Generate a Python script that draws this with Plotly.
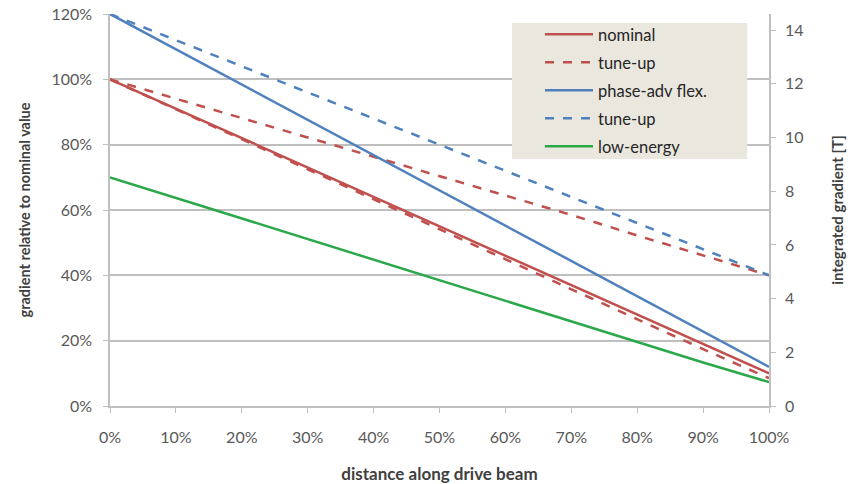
import plotly.graph_objects as go

distance = [0, 10, 20, 30, 40, 50, 60, 70, 80, 90, 100]
distance_labels = ["0%", "10%", "20%", "30%", "40%", "50%", "60%", "70%", "80%", "90%", "100%"]
nominal = [100, 91, 82, 73, 64, 55, 46, 37, 28, 19, 10]
nominal_tuneup_low = [100, 90.8, 81.6, 72.4, 63.2, 54, 44.8, 35.6, 26.4, 17.4, 8.5]
nominal_tuneup = [100, 94, 88, 82.2, 76.3, 70.3, 64.3, 58.5, 52.2, 46.2, 40]
phase_adv = [120, 109.2, 98.4, 87.6, 76.8, 66, 55.2, 44.4, 33.6, 22.8, 12]
phase_tuneup = [120, 112, 104, 96, 88, 80, 72, 64, 56, 48, 40]
low_energy = [70, 63.7, 57.4, 51.1, 44.8, 38.5, 32.2, 25.9, 19.6, 13.3, 7.3]

left_ticks = [0, 20, 40, 60, 80, 100, 120]
left_labels = ["0%", "20%", "40%", "60%", "80%", "100%", "120%"]
right_ticks = [0, 2, 4, 6, 8, 10, 12, 14]
right_labels = ["0", "2", "4", "6", "8", "10", "12", "14"]

RED = "#C0504D"
BLUE = "#4F81BD"
GREEN = "#2BA84A"
FONT = "Lato"
TICKCOL = "#595959"
TITLECOL = "#404040"
AXCOL = "#BFBFBF"

fig = go.Figure()
series = [
    ("nominal", nominal, RED, "solid"),
    ("tune-up", nominal_tuneup, RED, "dash"),
    ("phase-adv flex.", phase_adv, BLUE, "solid"),
    ("tune-up", phase_tuneup, BLUE, "dash"),
    ("low-energy", low_energy, GREEN, "solid"),
]
for i, (name, vals, col, dash) in enumerate(series):
    fig.add_trace(go.Scatter(x=distance, y=vals, name=name, mode="lines",
                             line=dict(color=col, width=2.5, dash=dash),
                             legendgroup=f"g{i}"))
fig.add_trace(go.Scatter(x=distance, y=nominal_tuneup_low, name="tune-up", mode="lines",
                         line=dict(color=RED, width=2.5, dash="dash"), showlegend=False))
fig.add_trace(go.Scatter(x=[None], y=[None], yaxis="y2", showlegend=False))

fig.update_layout(
    width=853, height=484,
    margin=dict(l=110, r=84, t=14, b=78, autoexpand=False),
    paper_bgcolor="white", plot_bgcolor="white",
    font=dict(family=FONT, size=16, color=TICKCOL),
    xaxis=dict(range=[0, 100], tickmode="array", tickvals=distance, ticktext=distance_labels,
               showgrid=False, zeroline=False, showline=True, linecolor=AXCOL, linewidth=1.5,
               ticks="outside", ticklen=5, tickcolor=AXCOL, ticklabelstandoff=11, automargin=False,
               ticklabeloverflow="allow",
               title=dict(text="<b>distance along drive beam</b>", standoff=23,
                          font=dict(family=FONT, size=17, color=TITLECOL))),
    yaxis=dict(range=[0, 120], tickmode="array", tickvals=left_ticks, ticktext=left_labels,
               showgrid=True, gridcolor=AXCOL, gridwidth=1.5, zeroline=False,
               showline=True, linecolor=AXCOL, linewidth=1.5, automargin=False,
               ticks="outside", ticklen=5, tickcolor=AXCOL, ticklabelstandoff=8,
               ticklabeloverflow="allow",
               title=dict(text="<b>gradient relative to nominal value</b>", standoff=17,
                          font=dict(family=FONT, size=14.5, color=TITLECOL))),
    yaxis2=dict(range=[0, 14.6], tickmode="array", tickvals=right_ticks, ticktext=right_labels,
                overlaying="y", side="right", automargin=False,
                showgrid=False, zeroline=False, showline=True, linecolor=AXCOL, linewidth=1.5,
                ticks="outside", ticklen=5, tickcolor=AXCOL, ticklabelstandoff=6,
                ticklabeloverflow="allow",
                title=dict(text="<b>integrated gradient [T]</b>", standoff=30,
                           font=dict(family=FONT, size=15, color=TITLECOL))),
    legend=dict(x=0.6525, y=0.992, xanchor="left", yanchor="top",
                bgcolor="rgba(0,0,0,0)", font=dict(family=FONT, size=16.5, color="#262626"),
                tracegroupgap=3.5, itemwidth=48),
    shapes=[dict(type="rect", xref="paper", yref="paper", x0=0.61, x1=0.967,
                 y0=0.630, y1=0.977, fillcolor="#EAE7DE", line=dict(width=0), layer="above")],
)
fig.write_html("out.html", config={"displayModeBar": False},
               post_script="document.body.style.margin='0';document.body.style.padding='0';")
